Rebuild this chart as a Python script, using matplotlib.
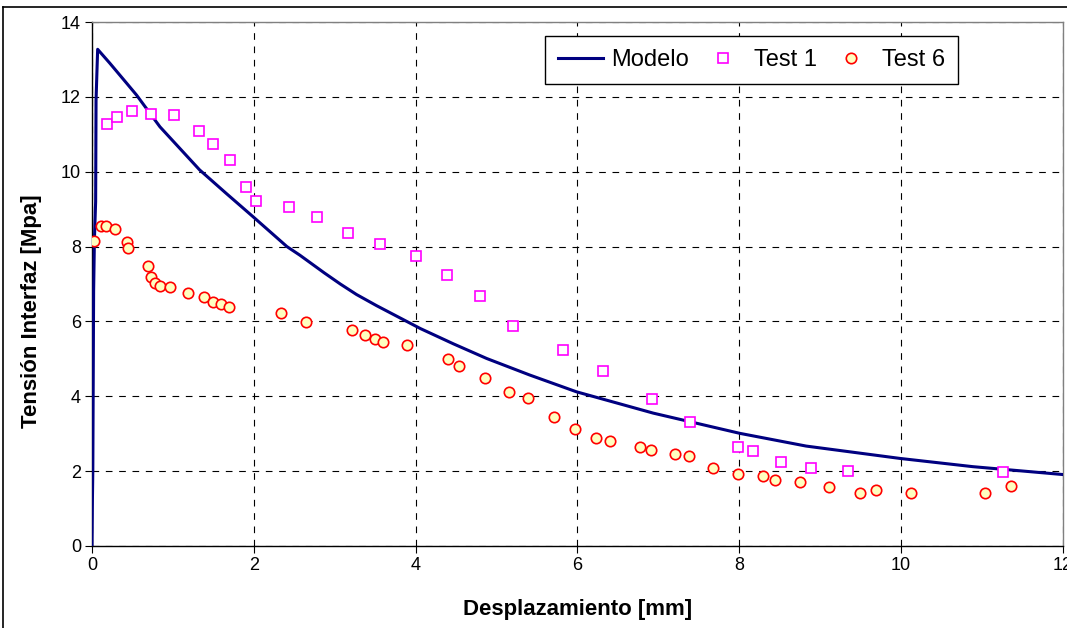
import matplotlib
matplotlib.use('Agg')
import matplotlib.pyplot as plt
from matplotlib.lines import Line2D

plt.rcParams['font.family'] = ['Liberation Sans', 'DejaVu Sans']

# Modelo curve
modelo_x = [0.0, 0.005, 0.01, 0.02, 0.03, 0.045, 0.05, 0.06, 0.07,
            0.22, 0.43, 0.55, 0.84, 1.33, 1.66, 1.99, 2.41, 2.57, 2.87,
            3.07, 3.27, 3.52, 4.06, 4.47, 4.88, 5.41, 5.99, 6.94, 8.01,
            8.83, 9.99, 10.89, 12.0]
modelo_y = [0.0, 1.2, 2.0, 6.8, 8.2, 9.2, 11.9, 12.6, 13.27,
            12.9, 12.36, 12.05, 11.2, 10.05, 9.42, 8.80, 8.0, 7.77, 7.3,
            7.0, 6.72, 6.42, 5.81, 5.40, 5.01, 4.57, 4.12, 3.55, 3.01,
            2.67, 2.34, 2.12, 1.91]

# Test 1 (squares)
test1_x = [0.19, 0.31, 0.49, 0.73, 1.01, 1.32, 1.49, 1.71, 1.90, 2.03,
           2.43, 2.78, 3.17, 3.56, 4.01, 4.39, 4.80, 5.21, 5.82, 6.32,
           6.93, 7.39, 7.99, 8.17, 8.52, 8.89, 9.35, 11.26]
test1_y = [11.27, 11.46, 11.62, 11.54, 11.51, 11.10, 10.74, 10.30, 9.58, 9.23,
           9.07, 8.80, 8.35, 8.08, 7.76, 7.23, 6.67, 5.88, 5.24, 4.68,
           3.92, 3.32, 2.65, 2.54, 2.24, 2.08, 2.01, 1.97]

# Test 6 (circles)
test6_x = [0.02, 0.11, 0.17, 0.28, 0.43, 0.45, 0.69, 0.73, 0.78, 0.84, 0.97,
           1.19, 1.38, 1.50, 1.60, 1.69, 2.34, 2.65, 3.21, 3.37, 3.50, 3.60,
           3.90, 4.40, 4.54, 4.86, 5.15, 5.39, 5.71, 5.97, 6.23, 6.41, 6.77,
           6.91, 7.21, 7.38, 7.68, 7.99, 8.30, 8.45, 8.76, 9.11, 9.49, 9.69,
           10.13, 11.04, 11.36]
test6_y = [8.16, 8.55, 8.55, 8.47, 8.11, 7.95, 7.48, 7.20, 7.03, 6.95, 6.92,
           6.76, 6.64, 6.52, 6.47, 6.39, 6.23, 5.99, 5.76, 5.64, 5.52, 5.44,
           5.36, 5.00, 4.81, 4.48, 4.12, 3.96, 3.44, 3.13, 2.89, 2.81, 2.65,
           2.56, 2.45, 2.40, 2.08, 1.92, 1.88, 1.76, 1.72, 1.57, 1.41, 1.49,
           1.41, 1.41, 1.60]

fig = plt.figure(figsize=(10.67, 6.28), dpi=100)
ax = fig.add_axes([92 / 1067, 1 - 546 / 628, 970.5 / 1067, 524 / 628])

ax.plot(modelo_x, modelo_y, color='#000080', lw=2.2, label='Modelo', zorder=3)
ax.plot(test1_x, test1_y, ls='none', marker='s', ms=7, mfc='white',
        mec='#ff00ff', mew=1.2, label='Test 1', zorder=4)
ax.plot(test6_x, test6_y, ls='none', marker='o', ms=7.5, mfc='#ffffc0',
        mec='#ff0000', mew=1.2, label='Test 6', zorder=4)

ax.set_xlim(0, 12)
ax.set_ylim(0, 14)
ax.set_xticks(range(0, 13, 2))
ax.set_yticks(range(0, 15, 2))
ax.grid(True, color='black', ls=(0, (6, 6)), lw=0.8)
ax.tick_params(labelsize=13, length=5, width=0.8, direction='out', pad=3)

ax.spines['left'].set_color('black')
ax.spines['bottom'].set_color('black')
ax.spines['top'].set_color('#808080')
ax.spines['right'].set_color('#808080')
for s in ax.spines.values():
    s.set_linewidth(1.0)

ax.set_xlabel('Desplazamiento [mm]', fontsize=16, fontweight='bold', labelpad=18)
ax.set_ylabel('Tensión Interfaz [Mpa]', fontsize=16, fontweight='bold')
ax.yaxis.set_label_coords(-0.052, 0.448)

leg = ax.legend(loc='upper right', bbox_to_anchor=(0.892, 0.973), ncol=3,
                fontsize=17, frameon=True, fancybox=False, edgecolor='black',
                framealpha=1, handlelength=1.9, columnspacing=0.5,
                handletextpad=0.35, borderpad=0.55, borderaxespad=0)
leg.get_frame().set_linewidth(1.0)

# outer chart frame (cut off at right/bottom in the original)
fig.add_artist(Line2D([3 / 1067, 1], [1 - 7 / 628, 1 - 7 / 628], color='black', lw=1.2))
fig.add_artist(Line2D([3 / 1067, 3 / 1067], [0, 1 - 7 / 628], color='black', lw=1.2))

fig.savefig('out.png', dpi=100)
